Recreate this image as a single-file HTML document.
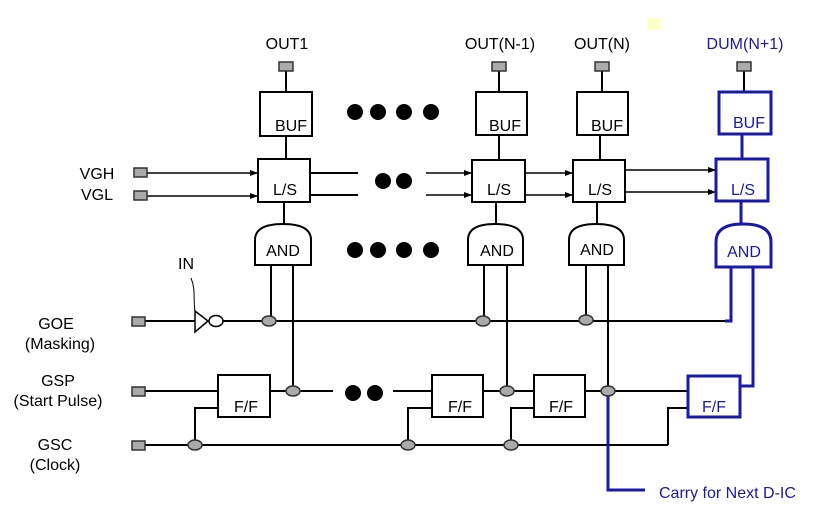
<!DOCTYPE html>
<html><head><style>body{margin:0;background:#fff}svg{display:block}text{font-family:"Liberation Sans",Arial,sans-serif;font-size:16px}</style></head><body>
<svg width="817" height="522" viewBox="0 0 817 522" xmlns="http://www.w3.org/2000/svg">
<defs><marker id="a" markerWidth="8" markerHeight="6" refX="8" refY="3" orient="auto" markerUnits="userSpaceOnUse"><path d="M0,0L8,3L0,6z" fill="#000"/></marker></defs>
<rect x="647" y="18" width="14" height="12" fill="#ffffcc"/>
<g fill="#000" text-anchor="middle">
<text x="287" y="49">OUT1</text><text x="500" y="49">OUT(N-1)</text><text x="602" y="49">OUT(N)</text>
<text x="745" y="49" fill="#1a1aa0">DUM(N+1)</text>
<text x="97" y="179">VGH</text><text x="97" y="200">VGL</text>
<text x="56" y="329">GOE</text><text x="60" y="349">(Masking)</text>
<text x="58" y="386">GSP</text><text x="58" y="406">(Start Pulse)</text>
<text x="55" y="450">GSC</text><text x="55" y="470">(Clock)</text>
<text x="186" y="269">IN</text>
</g>
<text x="659" y="498" fill="#1a1aa0">Carry for Next D-IC</text>
<g stroke="#000" stroke-width="2" fill="none">
<line x1="147" y1="173" x2="258" y2="173" stroke-width="1.5" marker-end="url(#a)"/>
<line x1="147" y1="196" x2="258" y2="196" stroke-width="1.5" marker-end="url(#a)"/>
<line x1="310" y1="173" x2="358" y2="173"/><line x1="310" y1="195" x2="358" y2="195"/>
<line x1="426" y1="173" x2="472" y2="173" stroke-width="1.5" marker-end="url(#a)"/>
<line x1="426" y1="195" x2="472" y2="195" stroke-width="1.5" marker-end="url(#a)"/>
<line x1="525" y1="173" x2="573" y2="173" stroke-width="1.5" marker-end="url(#a)"/>
<line x1="525" y1="195" x2="573" y2="195" stroke-width="1.5" marker-end="url(#a)"/>
<line x1="625" y1="170" x2="716" y2="170" stroke-width="1.5" marker-end="url(#a)"/>
<line x1="625" y1="192" x2="716" y2="192" stroke-width="1.5" marker-end="url(#a)"/>
<line x1="286" y1="70" x2="286" y2="92"/><line x1="286" y1="136" x2="286" y2="159"/><line x1="284" y1="202" x2="284" y2="224"/>
<line x1="499" y1="70" x2="499" y2="92"/><line x1="499" y1="135" x2="499" y2="160"/><line x1="496" y1="202" x2="496" y2="224"/>
<line x1="602" y1="70" x2="602" y2="92"/><line x1="600" y1="135" x2="600" y2="160"/><line x1="597" y1="202" x2="597" y2="224"/>
<line x1="744" y1="70" x2="744" y2="92"/>
<line x1="271" y1="265" x2="271" y2="321"/><line x1="293" y1="265" x2="293" y2="391"/>
<line x1="484" y1="265" x2="484" y2="321"/><line x1="507" y1="265" x2="507" y2="391"/>
<line x1="586" y1="265" x2="586" y2="321"/><line x1="608" y1="265" x2="608" y2="391"/>
<line x1="145" y1="321" x2="195" y2="321"/><line x1="223" y1="321" x2="731" y2="321"/>
<path d="M195,311 L208,321 L195,332 Z" stroke-width="1.5"/>
<ellipse cx="216" cy="321" rx="7" ry="5.5" stroke-width="1.5"/>
<path d="M191,278 C196,290 193,300 195,311" stroke-width="1"/>
<line x1="145" y1="391" x2="218" y2="391"/><line x1="270" y1="391" x2="333" y2="391"/>
<line x1="393" y1="391" x2="432" y2="391"/><line x1="483" y1="391" x2="534" y2="391"/>
<line x1="585" y1="391" x2="688" y2="391"/>
<line x1="145" y1="445" x2="668" y2="445"/>
<polyline points="195,445 195,408 218,408"/><polyline points="408,445 408,408 432,408"/>
<polyline points="511,445 511,408 534,408"/><polyline points="668,445 668,408 688,408"/>
<rect x="260" y="92" width="52" height="44"/><rect x="258" y="159" width="52" height="43"/>
<rect x="476" y="92" width="51" height="43"/><rect x="472" y="160" width="53" height="42"/>
<rect x="577" y="92" width="51" height="43"/><rect x="573" y="160" width="52" height="42"/>
<rect x="218" y="375" width="52" height="42"/><rect x="432" y="375" width="51" height="42"/><rect x="534" y="375" width="51" height="42"/>
<path d="M255,265 L255,240 Q255,224 283,224 Q311,224 311,240 L311,265 Z"/>
<path d="M468,265 L468,240 Q468,224 495,224 Q523,224 523,240 L523,265 Z"/>
<path d="M569,265 L569,240 Q569,224 596,224 Q624,224 624,240 L624,265 Z"/>
</g>
<g stroke="#1a1aa8" stroke-width="3" fill="none">
<rect x="719" y="92" width="52" height="42"/><rect x="716" y="159" width="52" height="42"/>
<path d="M716,267 L716,242 Q716,224 743,224 Q771,224 771,242 L771,267 Z"/>
<rect x="688" y="376" width="52" height="41"/>
<line x1="742" y1="134" x2="742" y2="159"/><line x1="741" y1="201" x2="741" y2="224"/>
<polyline points="731,267 731,321 725,321"/>
<polyline points="753,267 753,386 740,386"/>
<polyline points="608,391 608,490 645,490"/>
</g>
<g fill="#000" text-anchor="middle">
<text x="291" y="131">BUF</text><text x="285" y="195">L/S</text><text x="283" y="256">AND</text>
<text x="505" y="131">BUF</text><text x="499" y="195">L/S</text><text x="497" y="256">AND</text>
<text x="607" y="131">BUF</text><text x="600" y="195">L/S</text><text x="597" y="255">AND</text>
<text x="246" y="412">F/F</text><text x="460" y="412">F/F</text><text x="561" y="412">F/F</text>
</g>
<g fill="#1a1aa0" text-anchor="middle">
<text x="749" y="128">BUF</text><text x="743" y="195">L/S</text><text x="744" y="257">AND</text><text x="714" y="412">F/F</text>
</g>
<g fill="#000">
<circle cx="355" cy="112" r="8"/><circle cx="378" cy="112" r="8"/><circle cx="404" cy="112" r="8"/><circle cx="431" cy="112" r="8"/>
<circle cx="383" cy="181" r="8"/><circle cx="404" cy="181" r="8"/>
<circle cx="355" cy="250" r="8"/><circle cx="378" cy="250" r="8"/><circle cx="404" cy="250" r="8"/><circle cx="431" cy="250" r="8"/>
<circle cx="353" cy="393" r="8"/><circle cx="375" cy="393" r="8"/>
</g>
<g fill="#aaa" stroke="#333" stroke-width="1.5">
<rect x="279" y="62" width="14" height="9"/><rect x="492" y="62" width="14" height="9"/><rect x="595" y="62" width="14" height="9"/><rect x="737" y="62" width="14" height="9"/>
<rect x="134" y="168" width="13" height="9"/><rect x="134" y="191" width="13" height="9"/>
<rect x="132" y="317" width="13" height="9"/><rect x="132" y="387" width="13" height="9"/><rect x="132" y="441" width="13" height="9"/>
<ellipse cx="269" cy="321" rx="7" ry="5"/><ellipse cx="483" cy="321" rx="7" ry="5"/><ellipse cx="586" cy="320" rx="7" ry="5"/>
<ellipse cx="293" cy="391" rx="7" ry="5"/><ellipse cx="507" cy="391" rx="7" ry="5"/><ellipse cx="608" cy="391" rx="7" ry="5"/>
<ellipse cx="195" cy="445" rx="7" ry="5"/><ellipse cx="408" cy="445" rx="7" ry="5"/><ellipse cx="511" cy="445" rx="7" ry="5"/>
</g>
</svg>
</body></html>
